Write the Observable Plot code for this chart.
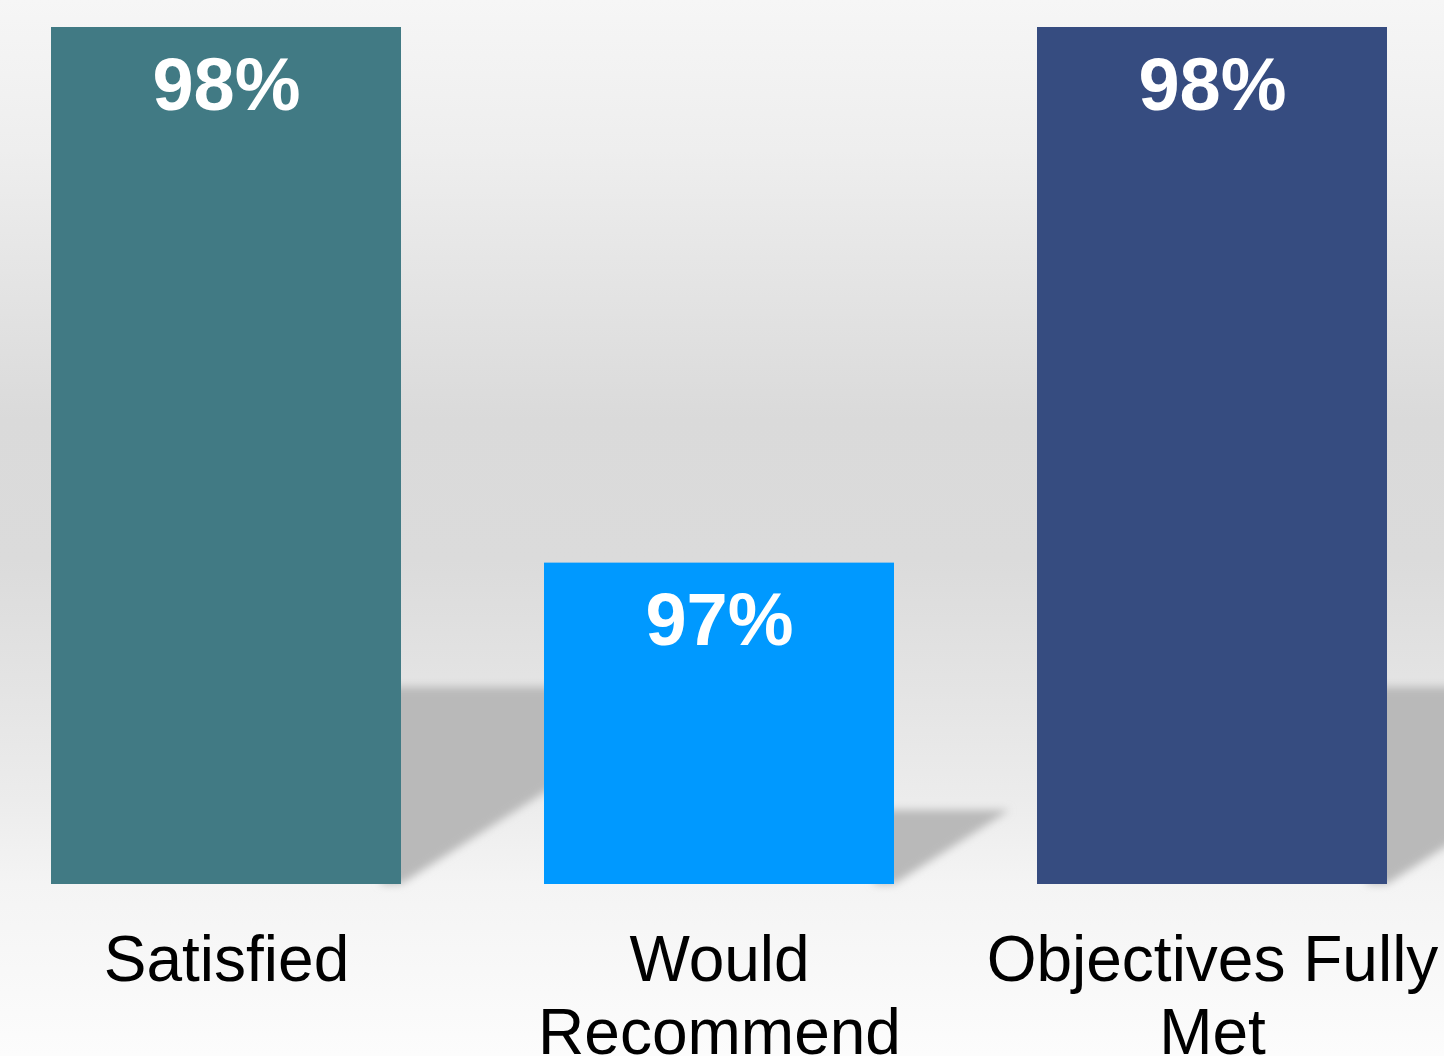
<!DOCTYPE html>
<html><head><meta charset="utf-8">
<script src="https://cdn.jsdelivr.net/npm/d3@7"></script>
<script src="https://cdn.jsdelivr.net/npm/@observablehq/plot@0.6"></script>
<style>html,body{margin:0;padding:0;background:#fff;} #chart svg{display:block}</style>
</head><body><div id="chart"></div>
<script>
const categories = ["Satisfied", "Would Recommend", "Objectives Fully Met"];
const tickLabels = ["Satisfied", "Would\nRecommend", "Objectives Fully\nMet"];
const values = [98, 97, 98];
const valueLabels = ["98%", "97%", "98%"];
const colors = ["#417a84", "#0099ff", "#364c80"];
const baseline = 96.4;
const yMax = 98;

const data = categories.map((c, i) => ({category: c, value: values[i], label: valueLabels[i], tick: tickLabels[i]}));

function shadowMark(index, scales) {
  const g = d3.create("svg:g");
  g.append("defs").append("filter").attr("id", "shadowBlur")
    .attr("x", "-30%").attr("y", "-30%").attr("width", "160%").attr("height", "160%")
    .append("feGaussianBlur").attr("stdDeviation", 4);
  const x = scales.x, y = scales.y;
  const bw = x.bandwidth ? x.bandwidth() : 351;
  const y0 = y(baseline);
  data.forEach(d => {
    const xr = x(d.category) + bw;
    const h = y0 - y(d.value);
    const sh = h * 0.23, sw = sh / 0.64;
    g.append("path")
      .attr("d", `M${xr - 20},${y0}L${xr - 20},${y0 - sh}L${xr + sw},${y0 - sh}L${xr},${y0}Z`)
      .attr("fill", "#b9b9b9")
      .attr("filter", "url(#shadowBlur)");
  });
  return g.node();
}

const plot = Plot.plot({
  width: 1444,
  height: 1056,
  marginTop: 27,
  marginBottom: 172,
  marginLeft: 0,
  marginRight: 5,
  style: {
    background: "linear-gradient(to bottom, #f6f6f6 0px, #eeeeee 150px, #dadada 420px, #dbdbdb 560px, #e4e4e4 690px, #ececec 800px, #f4f4f4 884px, #fcfcfc 1056px)",
    fontFamily: "'Liberation Sans', Arial, Helvetica, sans-serif",
    overflow: "visible"
  },
  x: {domain: categories, paddingInner: 0.2895, paddingOuter: 0.1022, axis: null},
  y: {domain: [baseline, yMax], axis: null},
  color: {domain: categories, range: colors},
  marks: [
    shadowMark,
    Plot.barY(data, {x: "category", y1: baseline, y2: "value", fill: "category"}),
    Plot.text(data, {x: "category", y: "value", text: "label", fill: "white", fontSize: 74, fontWeight: "bold", lineAnchor: "bottom", dy: 82}),
    Plot.text(data, {x: "category", y: baseline, text: "tick", fill: "black", fontSize: 64, lineAnchor: "top", lineHeight: 1.14, dy: 45})
  ]
});
document.getElementById("chart").appendChild(plot);
</script>
</body></html>
